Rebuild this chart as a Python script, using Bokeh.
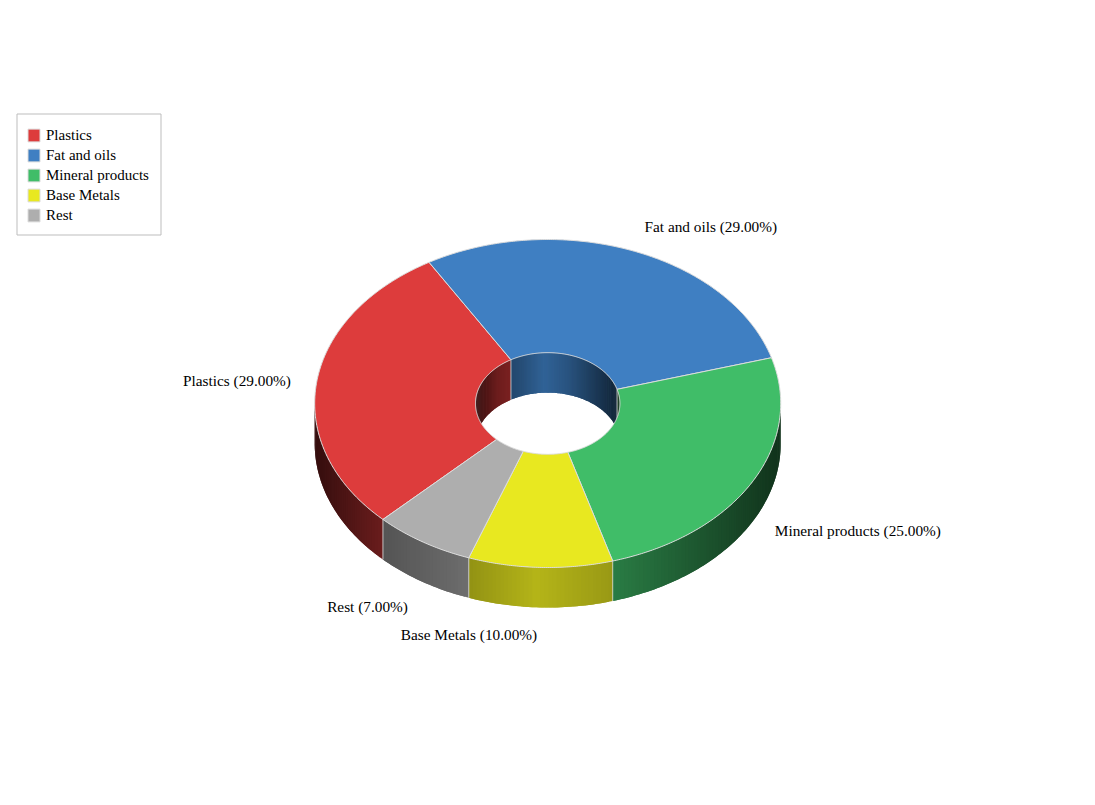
import numpy as np
from bokeh.plotting import figure
from bokeh.models import Range1d, Legend, LegendItem, BoxAnnotation
from bokeh.core.properties import value
from bokeh.embed import file_html
from bokeh.resources import INLINE

categories = ["Plastics", "Fat and oils", "Mineral products", "Base Metals", "Rest"]
shares = [29, 29, 25, 10, 7]
colors = ["#DD3C3C", "#3F7FC2", "#40BD68", "#E8E820", "#AEAEAE"]

FONT = "Liberation Serif"
EDGE = "#dcdcdc"
cx, cy, rx, ry, depth = 547.2, 403.0, 233.0, 164.0, 40.0
hole = 0.31
start_angle = 135.0

# wall brightness as a function of the normalised horizontal position
shade_u = [-1.0, -0.7, -0.34, -0.05, 0.28, 1.0]
shade_f = [0.24, 0.49, 0.63, 0.78, 0.66, 0.27]

total = sum(shares)
spans = np.array(shares) / total * 360.0
starts = start_angle + np.concatenate([[0.0], np.cumsum(spans)[:-1]])
ends = starts + spans


def pt(deg, k=1.0):
    t = np.radians(deg)
    return cx + rx * k * np.cos(t), cy + ry * k * np.sin(t)


def wall_color(base, u):
    f = float(np.interp(u, shade_u, shade_f))
    r, g, b = int(base[1:3], 16), int(base[3:5], 16), int(base[5:7], 16)
    return "#%02x%02x%02x" % (int(r * f), int(g * f), int(b * f))


def overlap(a0, a1, lo, hi):
    """Parts of slice [a0, a1] (possibly past 360) inside the window [lo, hi]."""
    out = []
    for shift in (-360, 0, 360):
        s, e = max(a0 + shift, lo), min(a1 + shift, hi)
        if e > s:
            out.append((s, e))
    return out


def walls(k, lo, hi):
    xs, ys, fc, sep_x, sep_y = [], [], [], [], []
    for a0, a1, col in zip(starts, ends, colors):
        for s, e in overlap(a0, a1, lo, hi):
            n = max(2, int(np.ceil(e - s)))
            grid = np.linspace(s, e, n + 1)
            for i in range(n):
                # each strip runs under the next one, so no seam can show
                g0, g1 = grid[i], grid[min(i + 2, n)]
                gm = grid[min(i + 1, n)]
                x0, y0 = pt(g0, k)
                xm, ym = pt(gm, k)
                x1, y1 = pt(g1, k)
                xs.append([x0, xm, x1, x1, xm, x0])
                ys.append([y0, ym, y1, y1 + depth, ym + depth, y0 + depth])
                fc.append(wall_color(col, np.cos(np.radians((g0 + gm) / 2))))
            for b in (s, e):
                if (b % 180) > 1e-6:
                    x, y = pt(b, k)
                    sep_x.append([x, x])
                    sep_y.append([y, y + depth])
    return xs, ys, fc, sep_x, sep_y


p = figure(width=1079, height=789, output_backend="svg", toolbar_location=None,
           x_range=Range1d(0, 1079), y_range=Range1d(789, 0), min_border=0)
p.axis.visible = False
p.grid.visible = False
p.outline_line_color = None
p.background_fill_color = "white"
p.border_fill_color = "white"

# inner wall (back half of the hole), then outer wall (front half)
for k, lo, hi in ((hole, 180.0, 360.0), (1.0, 0.0, 180.0)):
    xs, ys, fc, sx, sy = walls(k, lo, hi)
    p.patches(xs, ys, fill_color=fc, line_color=None)
    p.multi_line(sx, sy, line_color=EDGE, line_alpha=0.45, line_width=1)

# top face
top_x, top_y = [], []
for a0, a1 in zip(starts, ends):
    t = np.linspace(a0, a1, max(8, int(a1 - a0) * 2))
    ox, oy = pt(t)
    ix, iy = pt(t[::-1], hole)
    top_x.append(np.concatenate([ox, ix]).tolist())
    top_y.append(np.concatenate([oy, iy]).tolist())
top = p.patches(top_x, top_y, fill_color=colors, line_color=EDGE, line_width=1)

# slice labels
lx, ly, lt, la = [], [], [], []
for name, share, a0, a1 in zip(categories, shares, starts, ends):
    mid = np.radians((a0 + a1) / 2)
    c, s = np.cos(mid), np.sin(mid)
    lx.append(cx + 1.1 * rx * c + (2.5 if c > 0 else -2.5))
    lift = 11 if s > 0.7 else (-9 if s < -0.7 else 0)
    ly.append(cy + 1.1 * ry * s + (depth if s > 0 else 0) + lift)
    lt.append(f"{name} ({share / total * 100:.2f}%)")
    la.append("left" if c > 0 else "right")
p.text(lx, ly, text=lt, text_align=la, text_baseline="middle", text_color="black",
       text_font=value(FONT), text_font_size="15.3px")

p.add_layout(BoxAnnotation(left=16.5, right=160.5, top=113.5, bottom=234.5,
                           fill_color="white", fill_alpha=1.0,
                           line_color="#bdbdbd", line_alpha=1.0, line_width=1))

legend = Legend(
    items=[LegendItem(label=n, renderers=[top], index=i) for i, n in enumerate(categories)],
    location=(26, 564), orientation="vertical", margin=0, padding=10, spacing=0,
    glyph_width=15, glyph_height=16, label_standoff=5, label_height=20, label_width=10,
    label_text_font=FONT, label_text_font_size="15px", label_text_color="black",
    label_text_baseline="middle",
    border_line_color=None, background_fill_alpha=0.0,
)
p.add_layout(legend)

open("out.html", "w").write(file_html(p, INLINE))
